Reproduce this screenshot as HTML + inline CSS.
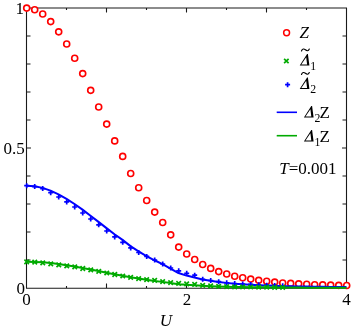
<!DOCTYPE html>
<html><head><meta charset="utf-8"><title>chart</title>
<style>html,body{margin:0;padding:0;background:#fff}body{width:354px;height:334px;overflow:hidden}svg text{font-family:"Liberation Serif",serif}</style>
</head><body>
<svg width="354" height="334" viewBox="0 0 354 334" style="display:block">
<rect width="354" height="334" fill="#fff"/>
<g stroke="#1a1a1a" stroke-width="1.1" fill="none">
<path d="M26.5 288.25V8H346.5V288.25M26 288.25H347"/>
<path d="M66.5 288V286M66.5 8V10"/>
<path d="M106.5 288V283.5M106.5 8V12.5"/>
<path d="M146.5 288V286M146.5 8V10"/>
<path d="M186.5 288V283.5M186.5 8V12.5"/>
<path d="M226.5 288V286M226.5 8V10"/>
<path d="M266.5 288V283.5M266.5 8V12.5"/>
<path d="M306.5 288V286M306.5 8V10"/>
<path d="M26.5 260H30.5M346.5 260H342.5"/>
<path d="M26.5 232H30.5M346.5 232H342.5"/>
<path d="M26.5 204H30.5M346.5 204H342.5"/>
<path d="M26.5 176H30.5M346.5 176H342.5"/>
<path d="M26.5 148H31.0M346.5 148H342.0"/>
<path d="M26.5 120H30.5M346.5 120H342.5"/>
<path d="M26.5 92H30.5M346.5 92H342.5"/>
<path d="M26.5 64H30.5M346.5 64H342.5"/>
<path d="M26.5 36H30.5M346.5 36H342.5"/>
</g>
<g fill="#fff" stroke="#ff0000" stroke-width="1.65">
<circle cx="26.7" cy="8.1" r="3"/>
<circle cx="34.7" cy="9.7" r="3"/>
<circle cx="42.7" cy="14.0" r="3"/>
<circle cx="50.7" cy="21.6" r="3"/>
<circle cx="58.7" cy="31.8" r="3"/>
<circle cx="66.7" cy="44.0" r="3"/>
<circle cx="74.7" cy="58.2" r="3"/>
<circle cx="82.7" cy="73.6" r="3"/>
<circle cx="90.7" cy="90.3" r="3"/>
<circle cx="98.7" cy="107.0" r="3"/>
<circle cx="106.7" cy="124.1" r="3"/>
<circle cx="114.7" cy="140.9" r="3"/>
<circle cx="122.7" cy="156.4" r="3"/>
<circle cx="130.7" cy="173.5" r="3"/>
<circle cx="138.7" cy="187.7" r="3"/>
<circle cx="146.7" cy="200.5" r="3"/>
<circle cx="154.7" cy="212.1" r="3"/>
<circle cx="162.7" cy="222.5" r="3"/>
<circle cx="170.7" cy="234.8" r="3"/>
<circle cx="178.7" cy="247.1" r="3"/>
<circle cx="186.7" cy="254.0" r="3"/>
<circle cx="194.7" cy="259.5" r="3"/>
<circle cx="202.7" cy="264.5" r="3"/>
<circle cx="210.7" cy="268.4" r="3"/>
<circle cx="218.7" cy="271.6" r="3"/>
<circle cx="226.7" cy="274.0" r="3"/>
<circle cx="234.7" cy="276.2" r="3"/>
<circle cx="242.7" cy="277.7" r="3"/>
<circle cx="250.7" cy="279.1" r="3"/>
<circle cx="258.7" cy="280.3" r="3"/>
<circle cx="266.7" cy="281.2" r="3"/>
<circle cx="274.7" cy="282.1" r="3"/>
<circle cx="282.7" cy="283.0" r="3"/>
<circle cx="290.7" cy="283.4" r="3"/>
<circle cx="298.7" cy="283.8" r="3"/>
<circle cx="306.7" cy="284.2" r="3"/>
<circle cx="314.7" cy="284.7" r="3"/>
<circle cx="322.7" cy="284.9" r="3"/>
<circle cx="330.7" cy="285.1" r="3"/>
<circle cx="338.7" cy="285.3" r="3"/>
<circle cx="346.7" cy="285.5" r="3"/>
</g>
<path fill="none" stroke="#0000ff" stroke-width="1.7" d="M24.2 185.7H29.2M26.7 183.2V188.2M32.2 186.6H37.2M34.7 184.1V189.1M40.2 188.6H45.2M42.7 186.1V191.1M48.2 192.7H53.2M50.7 190.2V195.2M56.2 197.0H61.2M58.7 194.5V199.5M64.2 201.9H69.2M66.7 199.4V204.4M72.2 207.0H77.2M74.7 204.5V209.5M80.2 213.0H85.2M82.7 210.5V215.5M88.2 219.0H93.2M90.7 216.5V221.5M96.2 224.8H101.2M98.7 222.3V227.3M104.2 231.0H109.2M106.7 228.5V233.5M112.2 236.9H117.2M114.7 234.4V239.4M120.2 242.3H125.2M122.7 239.8V244.8M128.2 247.9H133.2M130.7 245.4V250.4M136.2 252.5H141.2M138.7 250.0V255.0M144.2 256.4H149.2M146.7 253.9V258.9M152.2 260.0H157.2M154.7 257.5V262.5M160.2 264.0H165.2M162.7 261.5V266.5M168.2 268.0H173.2M170.7 265.5V270.5M176.2 270.8H181.2M178.7 268.3V273.3M184.2 273.3H189.2M186.7 270.8V275.8M192.2 275.2H197.2M194.7 272.7V277.7M200.2 279.3H205.2M202.7 276.8V281.8M208.2 280.5H213.2M210.7 278.0V283.0M216.2 281.7H221.2M218.7 279.2V284.2M224.2 282.8H229.2M226.7 280.3V285.3M232.2 283.5H237.2M234.7 281.0V286.0M240.2 284.0H245.2M242.7 281.5V286.5M248.2 284.4H253.2M250.7 281.9V286.9M256.2 284.8H261.2M258.7 282.3V287.3M264.2 285.2H269.2M266.7 282.7V287.7M272.2 285.5H277.2M274.7 283.0V288.0M280.2 285.8H285.2M282.7 283.3V288.3"/>
<path fill="none" stroke="#0000ff" stroke-width="2" stroke-linejoin="round" d="M26.5 185.72 L34.5 186.31 L42.5 187.88 L50.5 190.66 L58.5 194.38 L66.5 198.84 L74.5 204.03 L82.5 209.66 L90.5 215.76 L98.5 221.86 L106.5 228.11 L114.5 234.25 L122.5 239.91 L130.5 246.16 L138.5 251.35 L146.5 256.03 L154.5 260.27 L162.5 264.07 L170.5 268.56 L178.5 273.06 L186.5 275.58 L194.5 277.59 L202.5 279.41 L210.5 280.84 L218.5 282.01 L226.5 282.88 L234.5 283.69 L242.5 284.24 L250.5 284.75 L258.5 285.19 L266.5 285.52 L274.5 285.84 L282.5 286.17 L290.5 286.32 L298.5 286.47 L306.5 286.61 L314.5 286.79 L322.5 286.87 L330.5 286.94 L338.5 287.01 L346.5 287.09"/>
<path fill="none" stroke="#00aa00" stroke-width="1.65" d="M24.4 259.6L28.9 264.1M24.4 264.1L28.9 259.6M32.5 259.9L37.0 264.4M32.5 264.4L37.0 259.9M40.5 260.6L45.0 265.1M40.5 265.1L45.0 260.6M48.5 261.6L53.0 266.1M48.5 266.1L53.0 261.6M56.5 262.6L61.0 267.1M56.5 267.1L61.0 262.6M64.5 263.6L69.0 268.1M64.5 268.1L69.0 263.6M72.5 264.6L77.0 269.1M72.5 269.1L77.0 264.6M80.5 266.2L85.0 270.8M80.5 270.8L85.0 266.2M88.5 267.6L93.0 272.1M88.5 272.1L93.0 267.6M96.5 269.1L101.0 273.6M96.5 273.6L101.0 269.1M104.5 270.8L109.0 275.2M104.5 275.2L109.0 270.8M112.5 272.2L117.0 276.8M112.5 276.8L117.0 272.2M120.5 273.8L125.0 278.2M120.5 278.2L125.0 273.8M128.4 275.1L132.9 279.6M128.4 279.6L132.9 275.1M136.4 276.4L140.9 280.9M136.4 280.9L140.9 276.4M144.4 277.4L148.9 281.9M144.4 281.9L148.9 277.4M152.4 278.1L156.9 282.6M152.4 282.6L156.9 278.1M160.4 279.4L164.9 283.9M160.4 283.9L164.9 279.4M168.4 280.4L172.9 284.9M168.4 284.9L172.9 280.4M176.4 281.1L180.9 285.6M176.4 285.6L180.9 281.1M184.4 281.6L188.9 286.1M184.4 286.1L188.9 281.6M192.4 282.1L196.9 286.6M192.4 286.6L196.9 282.1M200.4 283.1L204.9 287.6M200.4 287.6L204.9 283.1M208.4 283.6L212.9 288.1M208.4 288.1L212.9 283.6M216.4 284.1L220.9 288.6M216.4 288.6L220.9 284.1M224.4 284.4L228.9 288.9M224.4 288.9L228.9 284.4M232.4 284.6L236.9 289.1M232.4 289.1L236.9 284.6M240.4 284.6L244.9 289.1M240.4 289.1L244.9 284.6M248.4 284.8L252.9 289.2M248.4 289.2L252.9 284.8M256.4 284.9L260.9 289.4M256.4 289.4L260.9 284.9M264.4 284.9L268.9 289.4M264.4 289.4L268.9 284.9M272.4 285.1L276.9 289.6M272.4 289.6L276.9 285.1M280.4 285.1L284.9 289.6M280.4 289.6L284.9 285.1"/>
<path fill="none" stroke="#00aa00" stroke-width="2" stroke-linejoin="round" d="M26.5 261.8 L34.5 261.95 L42.5 262.35 L50.5 263.06 L58.5 264.02 L66.5 265.16 L74.5 266.49 L82.5 267.93 L90.5 269.5 L98.5 271.06 L106.5 272.66 L114.5 274.23 L122.5 275.68 L130.5 277.28 L138.5 278.61 L146.5 279.81 L154.5 280.9 L162.5 281.87 L170.5 283.02 L178.5 284.17 L186.5 284.82 L194.5 285.33 L202.5 285.8 L210.5 286.17 L218.5 286.46 L226.5 286.69 L234.5 286.9 L242.5 287.04 L250.5 287.17 L258.5 287.28 L266.5 287.36 L274.5 287.45 L282.5 287.53 L290.5 287.57 L298.5 287.61 L306.5 287.64 L314.5 287.69 L322.5 287.71 L330.5 287.73 L338.5 287.75 L346.5 287.77"/>
<circle cx="286.6" cy="32.7" r="2.95" fill="#fff" stroke="#ff0000" stroke-width="1.5"/>
<path fill="none" stroke="#00aa00" stroke-width="1.7" d="M284.1 58.8L288.6 63.2M284.1 63.2L288.6 58.8"/>
<path fill="none" stroke="#0000ff" stroke-width="1.7" d="M285.1 84.7H290.1M287.6 82.2V87.2"/>
<path stroke="#0000ff" stroke-width="1.6" d="M276.7 112.3H297"/>
<path stroke="#00aa00" stroke-width="1.6" d="M276.7 135.7H297"/>
<g font-family="'Liberation Serif', serif" font-size="17" fill="#000" style="filter:grayscale(1)">
<text x="24" y="13.5" text-anchor="end">1</text>
<text x="24.8" y="153.9" text-anchor="end">0.5</text>
<text x="24.9" y="293.7" text-anchor="end">0</text>
<text x="26.6" y="305.3" text-anchor="middle">0</text>
<text x="186.9" y="305.4" text-anchor="middle">2</text>
<text x="346.5" y="305.2" text-anchor="middle">4</text>
<text x="159.7" y="326.3" font-style="italic">U</text>
<text x="299.5" y="38" font-style="italic">Z</text>
<path fill="#000" fill-rule="evenodd" transform="translate(0 0)" d="M299.7 65.5L309.4 65.5L307.9 54.1L307.1 54.1ZM301.3 64.6L307.1 64.6L306.2 57.2Z"/>
<path fill="none" stroke="#000" stroke-width="1.15" stroke-linecap="round" transform="translate(0 0)" d="M301.5 51 C302.3 48.6 304 48.6 305.4 49.8 S308.3 51.3 309.3 49"/>
<text x="310.3" y="69.5" font-size="11.8">1</text>
<path fill="#000" fill-rule="evenodd" transform="translate(0 23.5)" d="M299.7 65.5L309.4 65.5L307.9 54.1L307.1 54.1ZM301.3 64.6L307.1 64.6L306.2 57.2Z"/>
<path fill="none" stroke="#000" stroke-width="1.15" stroke-linecap="round" transform="translate(0 23.5)" d="M301.5 51 C302.3 48.6 304 48.6 305.4 49.8 S308.3 51.3 309.3 49"/>
<text x="310.3" y="93" font-size="11.8">2</text>
<path fill="#000" fill-rule="evenodd" transform="translate(4.2 52)" d="M299.7 65.5L309.4 65.5L307.9 54.1L307.1 54.1ZM301.3 64.6L307.1 64.6L306.2 57.2Z"/>
<text x="314.6" y="121.5" font-size="11.8">2</text>
<text x="319.6" y="117.5">Z</text>
<path fill="#000" fill-rule="evenodd" transform="translate(4.2 76)" d="M299.7 65.5L309.4 65.5L307.9 54.1L307.1 54.1ZM301.3 64.6L307.1 64.6L306.2 57.2Z"/>
<text x="314.6" y="145.5" font-size="11.8">1</text>
<text x="319.6" y="141.5">Z</text>
<text x="279.3" y="173.9" letter-spacing="0"><tspan font-style="italic">T</tspan>=0.001</text>
</g>
</svg>
</body></html>
